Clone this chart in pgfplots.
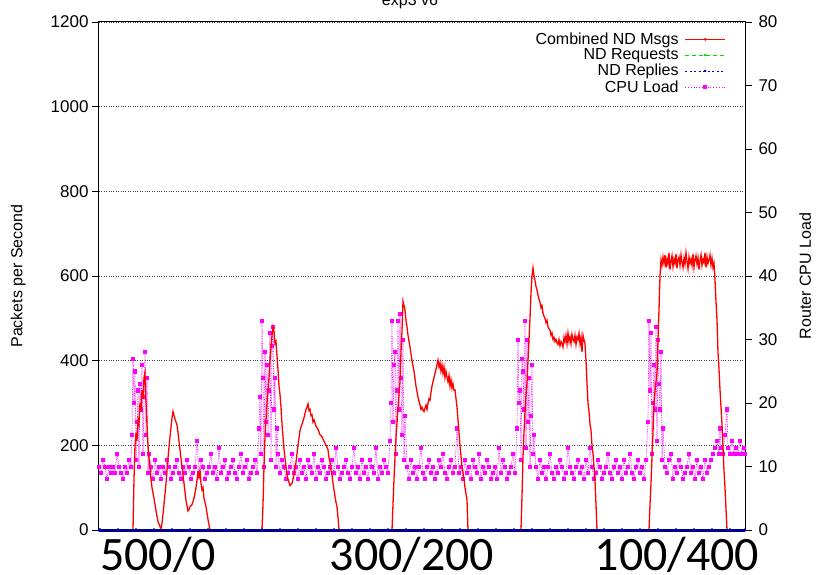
\documentclass[border=0pt]{standalone}
\usepackage{pgfplots}
\pgfplotsset{compat=1.18}
\usepackage{fontspec}
\setmainfont{Liberation Sans}
\newfontfamily\calib{Carlito}
\usetikzlibrary{calc}
\definecolor{ndred}{rgb}{1,0,0}
\definecolor{ndgreen}{rgb}{0,0.85,0}
\definecolor{ndblue}{rgb}{0,0,0.75}
\definecolor{ndnavy}{rgb}{0,0,0.55}
\definecolor{cpumag}{rgb}{1,0,1}
\begin{document}
\begin{tikzpicture}
\pgfplotsset{
  every axis/.append style={
    width=646pt, height=508pt, scale only axis,
    xmin=99, xmax=745, xtick=\empty,
    tick align=outside, major tick length=7pt,
    every tick/.style={black, line width=0.8pt},
    /pgf/number format/assume math mode=true,
    /pgf/number format/1000 sep={},
    tick label style={font=\fontsize{17}{17}\selectfont},
    label style={font=\fontsize{16}{16}\selectfont},
    axis line style={line width=1pt},
  },
  legend image code/.code={\draw[mark repeat=2,mark phase=2,#1] plot coordinates {(0pt,0pt) (20pt,0pt) (40pt,0pt)};},
}
% axis A: left scale, grid, ticks
\begin{axis}[name=ax, ymin=0, ymax=1200, ytick={0,200,...,1200}, ytick pos=left,
  ymajorgrids, major grid style={black!75, dotted, line width=0.8pt},
  ylabel={Packets per Second},
  ylabel style={at={(axis description cs:-0.125,0.5)}, anchor=center}]
\addplot[draw=none, forget plot] coordinates {(99,0) (745,0)};
\end{axis}
% axis B: right scale, CPU load
\begin{axis}[ymin=0, ymax=80, ytick={0,10,...,80}, axis y line*=right, axis x line=none,
  yticklabel style={xshift=3pt},
  ylabel={Router CPU Load},
  ylabel style={at={(axis description cs:1.093,0.5)}, anchor=center}]
\addplot[cpumag, densely dotted, line width=0.7pt, mark=square*, mark size=1.6pt,
  mark options={solid}, forget plot] coordinates {
(99,10) (101,9) (103,11) (105,10) (107,8) (109,10) (111,9) (113,10) (115,9) (117,12)
(119,10) (121,9) (123,8) (125,10) (127,9) (129,11) (131,10)
(132,15) (133,27) (134,20) (135,25) (136,11) (137,17) (138,22) (139,10)
(140,23) (141,19) (142,26) (143,12) (144,21) (145,28) (146,15) (147,24) (148,9) (149,12)
(151,10) (153,8) (155,11) (157,9) (159,10) (161,8) (163,10) (165,9) (167,11) (169,10)
(171,8) (173,9) (175,10) (177,11) (179,9) (181,8) (183,10) (185,9) (187,11) (189,10)
(191,8) (193,9) (195,10) (197,14) (199,9) (201,11) (203,10) (205,8) (207,9) (209,10)
(211,12) (213,9) (215,10) (217,8) (219,13) (221,9) (223,10) (225,11) (227,8) (229,9)
(231,10) (233,11) (235,9) (237,8) (239,10) (241,12) (243,9) (245,10) (247,11) (249,8)
(251,9) (253,10) (255,11) (257,9)
(259,16) (260,21) (261,12) (262,33) (263,24) (264,10) (265,28) (266,17) (267,26) (268,15)
(269,22) (270,31) (271,11) (272,29) (273,32) (274,19) (275,24) (276,10) (277,16) (278,12)
(280,9) (282,11) (284,10) (286,8) (288,9) (290,10) (292,12) (294,9) (296,10) (298,8)
(300,11) (302,9) (304,10) (306,8) (308,11) (310,10) (312,9) (314,12) (316,8) (318,10)
(320,9) (322,11) (324,10) (326,8) (328,9) (330,10) (332,11) (334,9) (336,13) (338,10)
(340,8) (342,9) (344,10) (346,11) (348,9) (350,8) (352,10) (354,13) (356,9) (358,10)
(360,8) (362,11) (364,9) (366,10) (368,8) (370,11) (372,10) (374,9) (376,13) (378,8)
(380,10) (382,9) (384,11) (386,10) (388,9)
(390,14) (391,20) (392,33) (393,17) (394,26) (395,28) (396,12) (397,22) (398,33) (399,19)
(400,34) (401,24) (402,15) (403,30) (404,11) (405,18)
(407,10) (409,8) (411,11) (413,9) (415,10) (417,8) (419,10) (421,13) (423,9) (425,8)
(427,10) (429,11) (431,9) (433,10) (435,8) (437,9) (439,11) (441,10) (443,12) (445,9)
(447,8) (449,10) (451,11) (453,9) (455,10) (457,16) (459,9) (461,10) (463,8) (465,11)
(467,9) (469,10) (471,8) (473,11) (475,10) (477,9) (479,12) (481,8) (483,10) (485,9)
(487,11) (489,10) (491,8) (493,9) (495,10) (497,8) (499,13) (501,9) (503,11) (505,10)
(507,8) (509,9) (511,10) (513,12) (515,9)
(517,16) (518,30) (519,20) (520,22) (521,11) (522,27) (523,25) (524,19) (525,33) (526,13)
(527,30) (528,17) (529,24) (530,10) (531,18) (532,26) (533,12) (534,15)
(536,10) (538,8) (540,11) (542,9) (544,10) (546,8) (548,10) (550,12) (552,9) (554,8)
(556,10) (558,9) (560,11) (562,10) (564,8) (566,9) (568,13) (570,10) (572,9) (574,8)
(576,10) (578,11) (580,9) (582,10) (584,8) (586,11) (588,9) (590,13) (592,10) (594,8)
(596,9) (598,11) (600,10) (602,8) (604,9) (606,10) (608,12) (610,9) (612,8) (614,10)
(616,11) (618,9) (620,10) (622,8) (624,11) (626,9) (628,10) (630,12) (632,9) (634,8)
(636,10) (638,11) (640,9) (642,10) (644,8) (646,11)
(648,17) (649,33) (650,22) (651,31) (652,12) (653,20) (654,26) (655,19) (656,32) (657,14)
(658,30) (659,23) (660,19) (661,28) (662,11) (663,16)
(665,10) (667,9) (669,11) (671,12) (673,8) (675,10) (677,9) (679,11) (681,10) (683,8)
(685,9) (687,10) (689,12) (691,9) (693,10) (695,8) (697,11) (699,9) (701,10) (703,8)
(705,11) (707,9) (709,10) (711,11) (713,12)
(715,13) (717,14) (719,12) (720,16) (721,13) (723,12) (725,15) (727,19) (728,13) (730,12)
(732,14) (734,12) (736,13) (738,12) (740,14) (742,12) (744,13) (745,12)};
\end{axis}
% axis C: left scale, packet series + legend
\begin{axis}[ymin=0, ymax=1200, hide axis, clip=false,
  legend plot pos=right, legend cell align=right,
  legend style={draw=none, fill=none, at={(axis description cs:0.975,0.987)}, anchor=north east,
    font=\fontsize{16}{16}\selectfont, row sep=-1pt, column sep=4pt}]
\addlegendimage{ndred, line width=1pt, mark=*, mark size=0.8pt}
\addlegendentry{Combined ND Msgs}
\addlegendimage{ndgreen, line width=0.8pt, dash pattern=on 4pt off 3pt, mark=*, mark size=0.8pt, mark options={solid}}
\addlegendentry{ND Requests}
\addlegendimage{ndblue, line width=0.8pt, dash pattern=on 2pt off 2.5pt, mark=*, mark size=0.8pt, mark options={solid}}
\addlegendentry{ND Replies}
\addlegendimage{cpumag, line width=0.8pt, dotted, mark=square*, mark size=1.6pt, mark options={solid}}
\addlegendentry{CPU Load}
\addplot[ndgreen, dashed, line width=1pt, forget plot] coordinates {(99,0) (745,0)};
\addplot[ndred, line width=1.3pt, forget plot] coordinates {
(99,0) (133,0) (134,120) (135,200) (136,230) (137,210) (138,260) (139,250) (140,300) (141,280)
(142,330) (143,310) (144,360) (145,372) (146,300) (147,250) (148,200) (149,170) (150,150) (151,120)
(152,100) (154,75) (156,45) (158,20) (160,8) (161,3) (162,15) (164,60) (166,110) (168,170)
(170,220) (172,265) (173,280) (174,270) (175,262) (176,255) (177,248) (178,230) (180,190) (182,150)
(184,110) (186,70) (188,45) (189,48) (190,55) (192,60) (194,75) (196,100) (198,135) (199,125)
(200,140) (201,110) (202,95) (203,100) (204,75) (206,55) (208,25) (210,0)
(262,0) (263,60) (264,150) (265,220) (266,260) (267,300) (268,330) (269,360) (270,400) (271,430)
(272,460) (273,480) (274,470) (275,440) (276,445) (277,410) (278,380) (279,340) (280,320) (281,290)
(282,250) (283,220) (284,190) (285,170) (286,150) (287,130) (288,120) (290,105) (292,110) (294,130)
(296,160) (298,200) (300,235) (302,250) (304,265) (306,285) (307,290) (308,298) (309,282) (310,285)
(311,270) (312,272) (313,255) (314,260) (316,245) (318,238) (320,225) (322,220) (324,210) (326,200)
(328,190) (329,170) (330,160) (331,140) (332,130) (333,110) (334,95) (335,80) (336,65) (337,55)
(338,30) (339,0)
(392,0) (393,60) (394,120) (395,170) (396,220) (397,253) (398,290) (399,320) (400,350) (401,420)
(402,470) (403,540) (404,530) (405,520) (406,495) (407,480) (408,460) (410,432) (412,400) (414,375)
(416,340) (418,314) (420,295) (421,285) (422,290) (423,283) (424,280) (425,288) (426,295) (427,285)
(428,300) (429,310) (430,307) (431,325) (432,340) (433,350) (434,360) (435,370) (436,380) (437,390)
(438,401) (439,385) (440,395) (441,375) (442,390) (443,370) (444,385) (445,360) (446,375) (447,361)
(448,350) (449,365) (450,340) (451,355) (452,335) (453,345) (454,330) (455,331) (456,310) (457,290)
(458,260) (459,230) (460,200) (461,175) (462,150) (463,135) (464,120) (465,100) (466,85) (467,71)
(468,0)
(521,0) (522,80) (523,172) (524,230) (525,280) (526,320) (527,347) (528,400) (529,449) (530,500)
(531,560) (532,600) (533,619) (534,600) (535,590) (536,575) (537,567) (538,555) (539,545) (540,538)
(541,525) (542,530) (543,512) (544,505) (545,500) (546,490) (547,495) (548,480) (549,475) (550,472)
(551,460) (552,465) (553,450) (554,455) (555,445) (556,450) (557,442) (558,438) (559,450) (560,435)
(561,445) (562,440) (563,432) (564,455) (565,445) (566,460) (567,440) (568,465) (569,445) (570,456)
(571,440) (572,462) (573,450) (574,445) (575,460) (576,438) (577,456) (578,450) (579,465) (580,440)
(581,455) (582,420) (583,460) (584,449) (585,440) (586,400) (587,347) (588,300) (589,280) (590,250)
(591,236) (592,200) (593,180) (594,150) (595,118) (596,60) (597,0)
(649,0) (650,60) (651,110) (652,172) (653,230) (654,300) (655,330) (656,350) (657,371) (658,450)
(659,520) (660,600) (661,638) (662,625) (663,645) (664,630) (665,650) (666,620) (667,640) (668,628)
(669,655) (670,615) (671,635) (672,648) (673,622) (674,640) (675,630) (676,652) (677,618) (678,638)
(679,645) (680,625) (681,650) (682,632) (683,620) (684,642) (685,628) (686,655) (687,635) (688,617)
(689,645) (690,630) (691,640) (692,625) (693,652) (694,620) (695,638) (696,648) (697,628) (698,643)
(699,615) (700,636) (701,650) (702,625) (703,640) (704,632) (705,655) (706,620) (707,645) (708,630)
(709,638) (710,650) (711,626) (712,642) (713,620) (714,630) (715,590) (716,540) (717,496) (718,420)
(719,380) (720,331) (721,290) (722,250) (723,196) (724,140) (725,100) (726,50) (727,0) (745,0)};
\addplot[ndnavy, line width=3pt, mark=triangle*, mark size=1.8pt, mark options={ndblue, line width=0.4pt}, forget plot] coordinates {
(99,0) (100,0) (118,0) (136,0) (154,0) (172,0) (190,0) (208,0) (226,0) (244,0) (262,0) (280,0)
(298,0) (316,0) (334,0) (352,0) (370,0) (388,0) (406,0) (424,0) (442,0) (460,0) (478,0)
(496,0) (514,0) (532,0) (550,0) (568,0) (586,0) (604,0) (622,0) (640,0) (658,0) (676,0)
(694,0) (712,0) (730,0) (745,0)};
\end{axis}
\node[overlay, anchor=base, font=\fontsize{16}{16}\selectfont] at ($(ax.north)+(-12pt,16pt)$) {exp3 v6};
\node[anchor=base, font=\calib\fontsize{48}{48}\selectfont] at ($(ax.south west)+(59pt,-40pt)$) {500/0};
\node[anchor=base, font=\calib\fontsize{48}{48}\selectfont] at ($(ax.south west)+(313pt,-40pt)$) {300/200};
\node[anchor=base, font=\calib\fontsize{48}{48}\selectfont] at ($(ax.south west)+(578pt,-40pt)$) {100/400};
\pgfresetboundingbox
\path ($(ax.south west)+(-99pt,-44pt)$) rectangle ++(817pt,574pt);
\end{tikzpicture}
\end{document}
